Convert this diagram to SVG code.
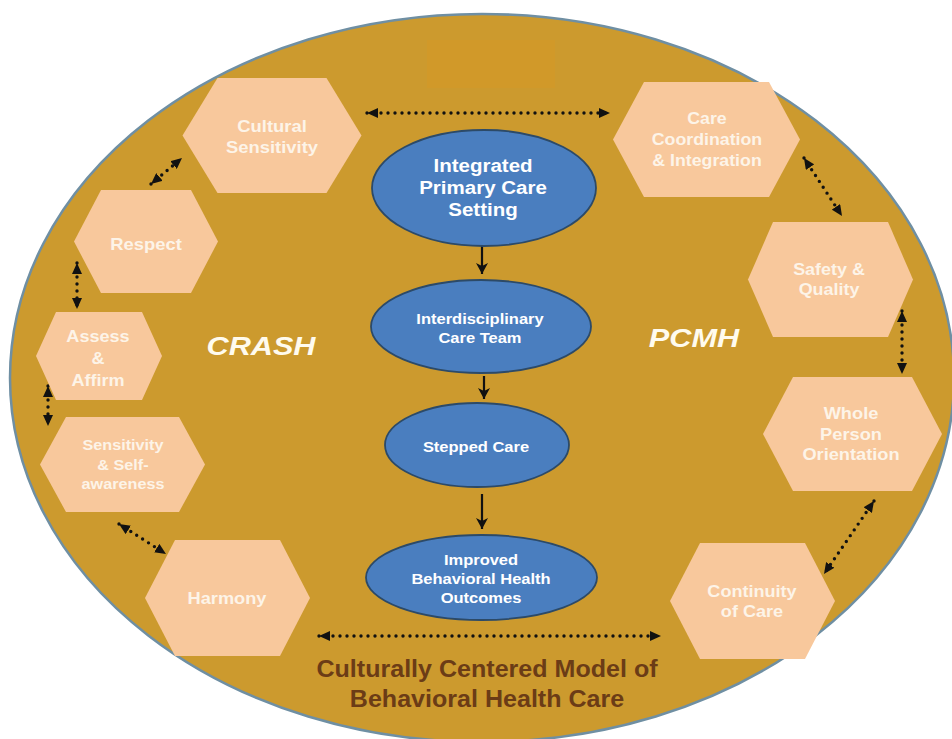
<svg xmlns="http://www.w3.org/2000/svg" width="952" height="739" viewBox="0 0 952 739">
<style>
  .bg { fill: #cc9a2e; stroke: #6f8fa3; stroke-width: 2.5; }
  .hex { fill: #f8c89c; }
  .ht { font-family: "Liberation Sans", Arial, sans-serif; font-weight: bold; font-size: 16px; fill: #fdf4e8; text-anchor: middle; }
  .ht2 { font-family: "Liberation Sans", Arial, sans-serif; font-weight: bold; font-size: 15px; fill: #fdf4e8; text-anchor: middle; }
  .ov { fill: #4a7ebf; stroke: #2c4a68; stroke-width: 1.8; }
  .ot { font-family: "Liberation Sans", Arial, sans-serif; font-weight: bold; fill: #ffffff; text-anchor: middle; }
  .lab { font-family: "Liberation Sans", Arial, sans-serif; font-weight: bold; font-style: italic; font-size: 26px; fill: #fffbee; text-anchor: middle; }
  .title { font-family: "Liberation Sans", Arial, sans-serif; font-weight: bold; font-size: 23px; fill: #6b3c16; text-anchor: middle; }
  .dot { fill: none; stroke: #111111; stroke-width: 3.4; stroke-linecap: round; stroke-dasharray: 0 7; marker-start: url(#ah); marker-end: url(#ah); }
  .sol { fill: none; stroke: #111111; stroke-width: 2.2; marker-end: url(#sh); }
</style>
<defs>
  <marker id="ah" markerUnits="userSpaceOnUse" markerWidth="11" markerHeight="10" refX="11" refY="5" orient="auto-start-reverse">
    <path d="M0,0 L11,5 L0,10 z" fill="#111111"/>
  </marker>
  <marker id="sh" markerUnits="userSpaceOnUse" markerWidth="12" markerHeight="12" refX="11" refY="6" orient="auto">
    <path d="M0,0 L11,6 L0,12 L3,6 z" fill="#111111"/>
  </marker>
</defs>

<ellipse class="bg" cx="482" cy="378" rx="472" ry="364"/>
<rect x="427" y="40" width="128" height="48" fill="#d69a24" opacity="0.45"/>

<g id="connectors">
  <line class="dot" x1="367" y1="113" x2="610" y2="113"/>
  <line class="dot" x1="151" y1="184" x2="182" y2="158"/>
  <line class="dot" x1="77" y1="263" x2="77" y2="309"/>
  <line class="dot" x1="48" y1="386" x2="48" y2="426"/>
  <line class="dot" x1="119" y1="524" x2="166" y2="554"/>
  <line class="dot" x1="319" y1="636" x2="661" y2="636"/>
  <line class="dot" x1="804" y1="158" x2="842" y2="216"/>
  <line class="dot" x1="902" y1="311" x2="902" y2="374"/>
  <line class="dot" x1="874" y1="501" x2="824" y2="574"/>
  <line class="sol" x1="482" y1="245" x2="482" y2="274"/>
  <line class="sol" x1="484" y1="376" x2="484" y2="399"/>
  <line class="sol" x1="482" y1="494" x2="482" y2="529"/>
</g>

<g id="n-cultural">
  <polygon class="hex" points="182.5,135.5 217.5,78 326.5,78 361.5,135.5 326.5,193 217.5,193"/>
  <text class="ht" transform="translate(272,0) scale(1.15,1)"><tspan x="0" y="132">Cultural</tspan><tspan x="0" y="153">Sensitivity</tspan></text>
</g>
<g id="n-respect">
  <polygon class="hex" points="74,241.5 101,190 191,190 218,241.5 191,293 101,293"/>
  <text class="ht" transform="translate(146,0) scale(1.15,1)"><tspan x="0" y="250">Respect</tspan></text>
</g>
<g id="n-assess">
  <polygon class="hex" points="36,356 56,312 142,312 162,356 142,400 56,400"/>
  <text class="ht" transform="translate(98,0) scale(1.13,1)"><tspan x="0" y="342">Assess</tspan><tspan x="0" y="364">&amp;</tspan><tspan x="0" y="386">Affirm</tspan></text>
</g>
<g id="n-sensitivity">
  <polygon class="hex" points="40,464.5 66,417 179,417 205,464.5 179,512 66,512"/>
  <text class="ht2" transform="translate(123,0) scale(1.08,1)"><tspan x="0" y="450">Sensitivity</tspan><tspan x="0" y="470">&amp; Self-</tspan><tspan x="0" y="489">awareness</tspan></text>
</g>
<g id="n-harmony">
  <polygon class="hex" points="145,598 175,540 280,540 310,598 280,656 175,656"/>
  <text class="ht" transform="translate(227,0) scale(1.14,1)"><tspan x="0" y="604">Harmony</tspan></text>
</g>
<g id="n-care">
  <polygon class="hex" points="613,139.5 644,82 769,82 800,139.5 769,197 644,197"/>
  <text class="ht" transform="translate(707,0) scale(1.11,1)"><tspan x="0" y="124">Care</tspan><tspan x="0" y="145">Coordination</tspan><tspan x="0" y="166">&amp; Integration</tspan></text>
</g>
<g id="n-safety">
  <polygon class="hex" points="748,279.5 773,222 888,222 913,279.5 888,337 773,337"/>
  <text class="ht" transform="translate(829,0) scale(1.12,1)"><tspan x="0" y="275">Safety &amp;</tspan><tspan x="0" y="295">Quality</tspan></text>
</g>
<g id="n-whole">
  <polygon class="hex" points="763,434 793,377 912,377 942,434 912,491 793,491"/>
  <text class="ht" transform="translate(851,0) scale(1.14,1)"><tspan x="0" y="419">Whole</tspan><tspan x="0" y="440">Person</tspan><tspan x="0" y="460">Orientation</tspan></text>
</g>
<g id="n-continuity">
  <polygon class="hex" points="670,601 700,543 805,543 835,601 805,659 700,659"/>
  <text class="ht" transform="translate(752,0) scale(1.13,1)"><tspan x="0" y="597">Continuity</tspan><tspan x="0" y="617">of Care</tspan></text>
</g>

<g id="n-setting">
  <ellipse class="ov" cx="484" cy="188" rx="112" ry="58"/>
  <text class="ot" font-size="19" transform="translate(483,0) scale(1.08,1)"><tspan x="0" y="172">Integrated</tspan><tspan x="0" y="194">Primary Care</tspan><tspan x="0" y="216">Setting</tspan></text>
</g>
<g id="n-team">
  <ellipse class="ov" cx="481" cy="326.5" rx="110" ry="46.5"/>
  <text class="ot" font-size="15" transform="translate(480,0) scale(1.1,1)"><tspan x="0" y="324">Interdisciplinary</tspan><tspan x="0" y="343">Care Team</tspan></text>
</g>
<g id="n-stepped">
  <ellipse class="ov" cx="477" cy="445" rx="92" ry="42"/>
  <text class="ot" font-size="15" transform="translate(476,0) scale(1.1,1)"><tspan x="0" y="452">Stepped Care</tspan></text>
</g>
<g id="n-outcomes">
  <ellipse class="ov" cx="481.5" cy="577.5" rx="115.5" ry="42.5"/>
  <text class="ot" font-size="15" transform="translate(481,0) scale(1.1,1)"><tspan x="0" y="565">Improved</tspan><tspan x="0" y="584">Behavioral Health</tspan><tspan x="0" y="603">Outcomes</tspan></text>
</g>

<g id="labels">
  <text class="lab" transform="translate(261,0) scale(1.18,1)" x="0" y="355">CRASH</text>
  <text class="lab" transform="translate(694,0) scale(1.18,1)" x="0" y="347">PCMH</text>
  <text class="title" transform="translate(487,0) scale(1.09,1)"><tspan x="0" y="677">Culturally Centered Model of</tspan><tspan x="0" y="707">Behavioral Health Care</tspan></text>
</g>
</svg>
